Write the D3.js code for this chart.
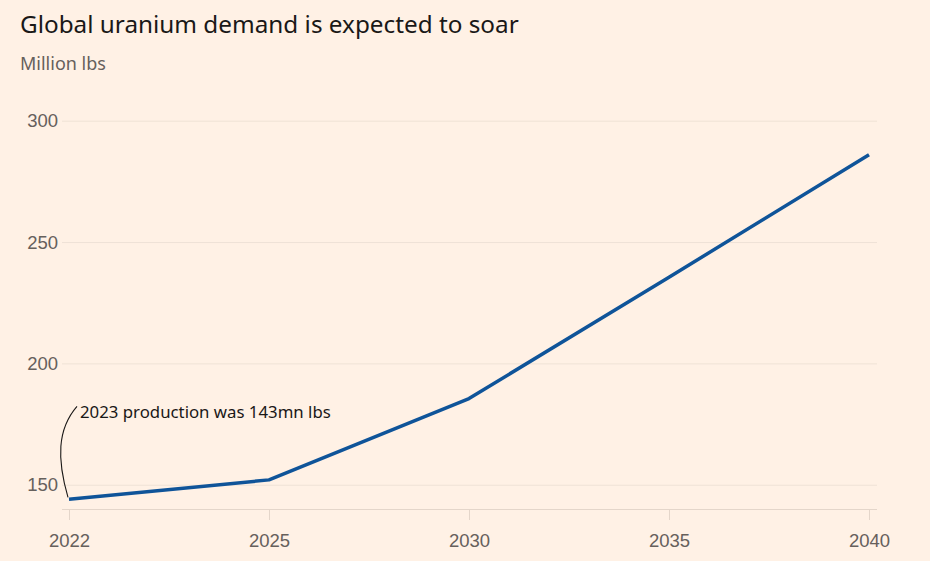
<!DOCTYPE html>
<html>
<head>
<meta charset="utf-8">
<script src="https://cdn.jsdelivr.net/npm/d3@7"></script>
<style>
  body { margin: 0; background: #fff1e5; }
  svg { display: block; font-family: "Noto Sans", sans-serif; }
</style>
</head>
<body>
<script>
// chart values
var years = ["2022", "2025", "2030", "2035", "2040"];
var demand = [144, 152, 185.5, 235.5, 286];
var yTicks = [150, 200, 250, 300];

var w = 930, h = 561;
var margin = {top: 120.7, right: 61, bottom: 52, left: 69};

var svg = d3.select("body").append("svg")
    .attr("width", w)
    .attr("height", h);

svg.append("rect")
    .attr("width", w).attr("height", h)
    .attr("fill", "#fff1e5");

// x is categorical: the years are equally spaced
var x = d3.scalePoint()
    .domain(years)
    .range([margin.left, w - margin.right]);

var y = d3.scaleLinear()
    .domain([140, 300])
    .range([h - margin.bottom, margin.top]);

// gridlines + y labels
var yAxis = svg.append("g")
    .attr("class", "y-axis")
    .attr("transform", "translate(62,0)")
    .call(d3.axisRight(y).tickValues(yTicks).tickSize(w - 62 - 53).tickFormat(d3.format("d")));
yAxis.select(".domain").remove();
yAxis.selectAll("line").attr("stroke", "#efe2d6");
yAxis.selectAll("text")
    .attr("x", -4)
    .attr("text-anchor", "end")
    .attr("dy", "0.33em")
    .attr("fill", "#66605c")
    .style("font-size", "18.5px");

// x axis
var xAxis = svg.append("g")
    .attr("class", "x-axis")
    .attr("transform", "translate(0," + (h - margin.bottom) + ")")
    .call(d3.axisBottom(x).tickSize(11).tickPadding(14));
xAxis.select(".domain")
    .attr("d", "M62,0.5H877")
    .attr("stroke", "#e4d6ca");
xAxis.selectAll("line").attr("stroke", "#e4d6ca");
xAxis.selectAll("text")
    .attr("fill", "#66605c")
    .style("font-size", "18.5px");

// demand line
var line = d3.line()
    .x(function(d, i){ return x(years[i]); })
    .y(function(d){ return y(d); });

svg.append("path")
    .datum(demand)
    .attr("d", line)
    .attr("fill", "none")
    .attr("stroke", "#0f5499")
    .attr("stroke-width", 3.5)
    .attr("stroke-linejoin", "round");

// annotation with curved connector
var px = x(years[0]), py = y(demand[0]);
svg.append("path")
    .attr("d", "M" + (px - 1) + "," + (py - 2) + " C" + (px - 12) + "," + (py - 40) + " " + (px - 12) + "," + (py - 70) + " " + (px + 8) + "," + (py - 93))
    .attr("fill", "none")
    .attr("stroke", "#1a1817")
    .attr("stroke-width", 1.1);

svg.append("text")
    .attr("x", px + 11)
    .attr("y", py - 81)
    .attr("fill", "#1a1817")
    .style("font-size", "16.8px")
    .text("2023 production was 143mn lbs");

// titles
svg.append("text")
    .attr("x", 20).attr("y", 33)
    .attr("fill", "#1a1817")
    .style("font-size", "24.3px")
    .text("Global uranium demand is expected to soar");

svg.append("text")
    .attr("x", 20).attr("y", 70)
    .attr("fill", "#66605c")
    .style("font-size", "18px")
    .text("Million lbs");
</script>
</body>
</html>
